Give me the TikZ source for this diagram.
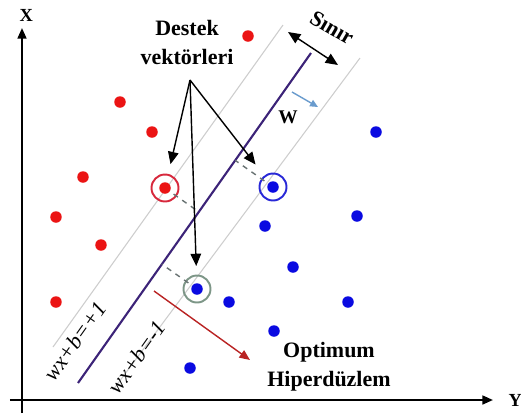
\documentclass[tikz,border=0pt]{standalone}
\usepackage{fontspec}
\setmainfont{Liberation Serif}
\definecolor{SVMred}{RGB}{235,20,20}
\definecolor{SVMblue}{RGB}{10,10,225}
\definecolor{SVMpurple}{RGB}{60,35,120}
\definecolor{SVMgray}{RGB}{205,205,205}
\definecolor{SVMdash}{RGB}{105,115,115}
\definecolor{SVMringred}{RGB}{215,40,60}
\definecolor{SVMringblue}{RGB}{40,40,215}
\definecolor{SVMringgreen}{RGB}{125,150,135}
\definecolor{SVMarrow}{RGB}{185,35,35}
\definecolor{SVMsteel}{RGB}{105,155,205}
\usetikzlibrary{arrows.meta, calc}

\tikzset{
   ring/.style={circle, draw, line width=1.1pt, minimum size=0.54cm, inner sep=0pt},
   pointer/.style={-{Triangle[length=7pt,width=6pt]}, line width=0.8pt, shorten >=0.2cm},
   lbl/.style={font=\fontsize{12.5}{16.5}\selectfont\bfseries, align=center},
   eqlbl/.style={font=\fontsize{12.5}{14}\selectfont\itshape, rotate=54.6, inner sep=1pt}
}

\begin{document}
\begin{tikzpicture}
      \useasboundingbox (-0.44,-0.36) rectangle (9.98,8.0);
      % Margin lines
      \draw[SVMgray, line width=0.6pt] (0.62,1.06) -- (5.22,7.5);
      \draw[SVMgray, line width=0.6pt] (1.82,0.2) -- (6.76,6.84);
      \node[eqlbl] (plus) at (1.06,1.18) {wx+b=+1};
      \node[eqlbl] (minus) at (2.3,0.86) {wx+b=-1};
      % Optimum hyperplane
      \coordinate (h1) at (1.12,0.34);
      \coordinate (h2) at (5.78,6.94);
      \draw[SVMpurple, line width=1.2pt] (h1) -- (h2);
      % Support vectors
      \node[ring, draw=SVMringred] (redsv) at (2.86,4.24) {};
      \node[ring, draw=SVMringblue] (bluesv) at (5.02,4.26) {};
      \node[ring, draw=SVMringgreen] (greensv) at (3.5,2.22) {};
      \foreach \sv in {redsv, bluesv, greensv}
         \draw[dashed, SVMdash, line width=0.8pt] (\sv.center) -- ($(h1)!(\sv.center)!(h2)$);
      % Data points
      \foreach \p in {(4.52,7.28),(1.96,5.96),(2.6,5.36),(1.22,4.46),(0.68,3.66),(1.58,3.1),(0.68,1.96),(2.86,4.24)}
         \fill[SVMred] \p circle (0.115);
      \foreach \p in {(7.08,5.36),(6.7,3.68),(5.42,2.66),(6.52,1.96),(5.04,1.38),(4.14,1.96),(3.36,0.64),(4.86,3.48),(5.02,4.26),(3.5,2.22)}
         \fill[SVMblue] \p circle (0.115);
      % Support vector labels
      \node[lbl] (svtext) at (3.3,7.16) {Destek\\vektörleri};
      \coordinate (apex) at (3.36,6.4);
      \draw[pointer] (apex) -- (redsv);
      \draw[pointer, shorten >=0.28cm] (apex) -- (bluesv);
      \draw[pointer, shorten >=0.17cm] (apex) -- (greensv);
      % Margin width
      \coordinate (m1) at (5.32,7.36);
      \coordinate (m2) at (6.32,6.7);
      \draw[{Triangle[length=7pt,width=6pt]}-{Triangle[length=7pt,width=6pt]}, line width=0.8pt] (m1) -- (m2);
      \node[lbl, rotate=-30] (margin) at (6.2,7.44) {Sınır};
      % Normal vector
      \coordinate (w1) at (5.4,6.16);
      \coordinate (w2) at (5.92,5.86);
      \draw[-{Triangle[length=4.5pt,width=4pt]}, SVMsteel, line width=0.8pt] (w1) -- (w2);
      \node[font=\fontsize{11}{13}\selectfont\bfseries] (wlab) at (5.32,5.66) {W};
      % Hyperplane direction
      \coordinate (o1) at (2.64,2.18);
      \coordinate (o2) at (4.56,0.8);
      \draw[-{Triangle[length=6pt,width=5pt]}, SVMarrow, line width=0.8pt] (o1) -- (o2);
      \node[lbl] (opt) at (6.14,0.66) {Optimum\\Hiperdüzlem};
      % Axes
      \draw[-{Triangle[length=6pt,width=5pt]}, line width=1.2pt] (-0.24,0) -- (9.42,0)
         node[right, xshift=5pt, font=\fontsize{10.5}{12}\selectfont\bfseries] (ylab) {Y};
      \draw[-{Triangle[length=6pt,width=5pt]}, line width=1.2pt] (0,-0.26) -- (0,7.44)
         node[above, xshift=2.5pt, font=\fontsize{10.5}{12}\selectfont\bfseries] (xlab) {X};
   \end{tikzpicture}
\end{document}
